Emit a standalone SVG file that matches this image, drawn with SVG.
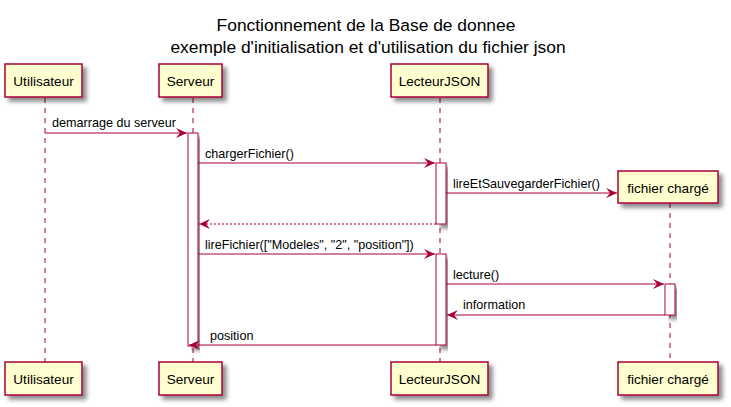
<svg xmlns="http://www.w3.org/2000/svg" width="731" height="407" viewBox="0 0 731 407">
<defs>
<filter id="sh" x="-10%" y="-10%" width="130%" height="140%">
<feGaussianBlur in="SourceAlpha" stdDeviation="2"/>
<feOffset dx="4" dy="4" result="b"/>
<feComponentTransfer><feFuncA type="linear" slope="0.45"/></feComponentTransfer>
<feMerge><feMergeNode/><feMergeNode in="SourceGraphic"/></feMerge>
</filter>
<marker id="ah" viewBox="0 0 12 10" refX="11" refY="5" markerWidth="12" markerHeight="10" markerUnits="userSpaceOnUse" orient="auto">
<polygon points="0,0 11,5 0,10 4,5" fill="#A80036"/>
</marker>
</defs>
<style>
.p{fill:#FEFECE;stroke:#A80036;stroke-width:1.5}
.pt{font-family:"Liberation Sans",Arial,sans-serif;font-size:13.6px;fill:#000;text-anchor:middle}
.ll{stroke:#A80036;stroke-width:1;stroke-dasharray:5,5;fill:none}
.act{fill:#FFFFFF;stroke:#A80036;stroke-width:1}
.m{stroke:#A80036;stroke-width:1;fill:none;marker-end:url(#ah)}
.d{stroke-dasharray:2,2}
.mt{font-family:"Liberation Sans",Arial,sans-serif;font-size:12.6px;fill:#000}
.title{font-family:"Liberation Sans",Arial,sans-serif;font-size:17.4px;fill:#000;text-anchor:middle}
</style>
<rect width="731" height="407" fill="#FFFFFF"/>
<g id="title">
<text class="title" x="366" y="31">Fonctionnement de la Base de donnee</text>
<text class="title" x="368" y="53">exemple d'initialisation et d'utilisation du fichier json</text>
</g>
<g id="lifelines">
<line class="ll" x1="45" y1="98" x2="45" y2="362"/>
<line class="ll" x1="193" y1="98" x2="193" y2="362"/>
<line class="ll" x1="440" y1="98" x2="440" y2="362"/>
<line class="ll" x1="670" y1="203" x2="670" y2="362"/>
</g>
<g id="Utilisateur">
<rect class="p" x="5" y="64" width="77" height="33" filter="url(#sh)"/>
<text class="pt" x="43.5" y="86">Utilisateur</text>
<rect class="p" x="5" y="362" width="77" height="33" filter="url(#sh)"/>
<text class="pt" x="43.5" y="384">Utilisateur</text>
</g>
<g id="Serveur">
<rect class="p" x="159" y="64" width="63" height="33" filter="url(#sh)"/>
<text class="pt" x="190.5" y="86">Serveur</text>
<rect class="p" x="159" y="362" width="63" height="33" filter="url(#sh)"/>
<text class="pt" x="190.5" y="384">Serveur</text>
<rect class="act" x="188" y="133" width="10" height="213" filter="url(#sh)"/>
</g>
<g id="LecteurJSON">
<rect class="p" x="391" y="64" width="97" height="33" filter="url(#sh)"/>
<text class="pt" x="439.5" y="86">LecteurJSON</text>
<rect class="p" x="391" y="362" width="97" height="33" filter="url(#sh)"/>
<text class="pt" x="439.5" y="384">LecteurJSON</text>
<rect class="act" x="436" y="163" width="10" height="61" filter="url(#sh)"/>
<rect class="act" x="436" y="254" width="10" height="91" filter="url(#sh)"/>
</g>
<g id="fichier">
<rect class="p" x="618" y="171" width="100" height="32" filter="url(#sh)"/>
<text class="pt" x="668" y="193">fichier chargé</text>
<rect class="p" x="618" y="362" width="100" height="33" filter="url(#sh)"/>
<text class="pt" x="668" y="384">fichier chargé</text>
<rect class="act" x="665" y="284" width="10" height="31" filter="url(#sh)"/>
</g>
<g id="connectors">
<line class="m" x1="45" y1="133" x2="187" y2="133"/>
<text class="mt" x="52" y="127">demarrage du serveur</text>
<line class="m" x1="198" y1="163" x2="435" y2="163"/>
<text class="mt" x="205" y="158">chargerFichier()</text>
<line class="m" x1="446" y1="193" x2="617" y2="193"/>
<text class="mt" x="453" y="188">lireEtSauvegarderFichier()</text>
<line class="m d" x1="436" y1="224" x2="199" y2="224"/>
<line class="m" x1="198" y1="254" x2="435" y2="254"/>
<text class="mt" x="205" y="249">lireFichier(["Modeles", "2", "position"])</text>
<line class="m" x1="446" y1="284" x2="664" y2="284"/>
<text class="mt" x="453" y="279">lecture()</text>
<line class="m" x1="665" y1="315" x2="447" y2="315"/>
<text class="mt" x="463" y="309">information</text>
<line class="m" x1="436" y1="345" x2="189" y2="345"/>
<text class="mt" x="210" y="340">position</text>
</g>
</svg>
